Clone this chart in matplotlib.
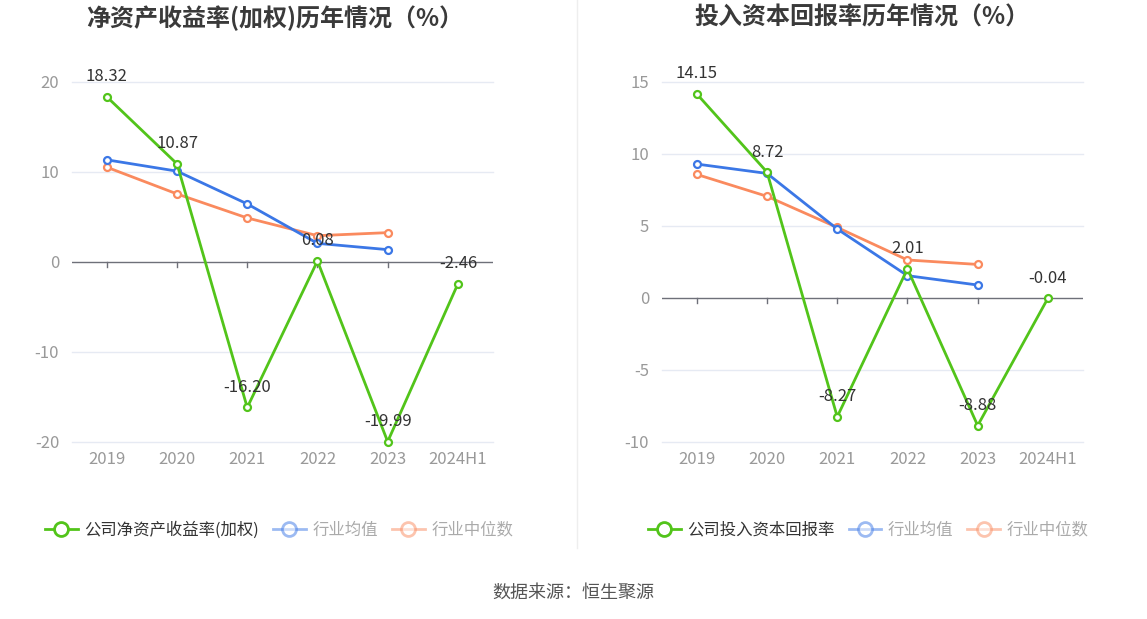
import matplotlib
matplotlib.use("Agg")
import matplotlib.pyplot as plt
from matplotlib.lines import Line2D

plt.rcParams["font.family"] = ["Noto Sans CJK SC", "DejaVu Sans"]

# ── 数据 ──────────────────────────────────────────────────────────────────────
YEARS = ["2019", "2020", "2021", "2022", "2023", "2024H1"]

ROE_COMPANY = [18.32, 10.87, -16.20, 0.08, -19.99, -2.46]
ROE_AVG     = [11.32, 10.06, 6.42, 2.04, 1.34]
ROE_MEDIAN  = [10.50, 7.53, 4.86, 2.89, 3.23]

ROIC_COMPANY = [14.15, 8.72, -8.27, 2.01, -8.88, -0.04]
ROIC_AVG     = [9.28, 8.63, 4.77, 1.53, 0.88]
ROIC_MEDIAN  = [8.56, 7.04, 4.88, 2.62, 2.31]

C_GREEN  = "#52C41A"
C_BLUE   = "#3B77E6"
C_ORANGE = "#FA8A5E"
C_GRID   = "#E6EAF3"
C_AXIS   = "#6E7079"
C_TICK   = "#999999"
C_TEXT   = "#333333"

W, H = 1147, 619


def draw_panel(fig, rect, title, title_x, company, avg, median, ylim, yticks,
               company_label, legend_x):
    ax = fig.add_axes(rect)
    x = list(range(len(YEARS)))
    ax.set_xlim(-0.5, len(YEARS) - 0.5)
    ax.set_ylim(*ylim)

    for y in yticks:
        if y != 0:
            ax.axhline(y, color=C_GRID, lw=1.0, zorder=0, clip_on=False)
    ax.axhline(0, color=C_AXIS, lw=1.0, zorder=1)
    for i in range(len(YEARS) - 1):
        ax.plot([i, i], [0, -(ylim[1] - ylim[0]) * 0.014], color=C_AXIS,
                lw=1.0, zorder=1, clip_on=False)

    mk = dict(marker="o", markersize=5, markerfacecolor="white",
              markeredgewidth=1.6, lw=2.0, clip_on=False)
    ax.plot(x[:len(median)], median, color=C_ORANGE, zorder=3, **mk)
    ax.plot(x[:len(avg)], avg, color=C_BLUE, zorder=4, **mk)
    ax.plot(x, company, color=C_GREEN, zorder=5, **mk)

    for xi, v in zip(x, company):
        ax.annotate(f"{v:.2f}", (xi, v), xytext=(0, 14.4),
                    textcoords="offset points", ha="center", va="center",
                    fontsize=12, color=C_TEXT, zorder=6)

    ax.set_xticks(x)
    ax.set_xticklabels(YEARS)
    ax.set_yticks(yticks)
    ax.set_yticklabels([str(t) for t in yticks])
    ax.tick_params(axis="both", length=0, labelsize=12, colors=C_TICK)
    ax.tick_params(axis="x", pad=7)
    ax.tick_params(axis="y", pad=9)
    for s in ax.spines.values():
        s.set_visible(False)

    fig.text(title_x / W, 1 - 18 / H, title, ha="center", va="center",
             fontsize=17.3, fontweight="bold", color="#3A3A3A")

    hmk = dict(marker="o", markersize=10, markerfacecolor="white",
               markeredgewidth=2.0, lw=2.0)
    handles = [
        Line2D([], [], color=C_GREEN, **hmk),
        Line2D([], [], color=C_BLUE, alpha=0.5, **hmk),
        Line2D([], [], color=C_ORANGE, alpha=0.5, **hmk),
    ]
    leg = fig.legend(handles, [company_label, "行业均值", "行业中位数"],
                     loc="center left", bbox_to_anchor=(legend_x / W, 1 - 530 / H),
                     ncol=3, frameon=False, fontsize=11.8, handlelength=2.0,
                     handletextpad=0.4, columnspacing=0.85, borderpad=0,
                     borderaxespad=0)
    for t, c in zip(leg.get_texts(), [C_TEXT, "#AAAAAA", "#AAAAAA"]):
        t.set_color(c)
    return ax


def main():
    fig = plt.figure(figsize=(W / 100, H / 100), dpi=100, facecolor="white")

    top, bottom = 81.7, 441.7
    draw_panel(fig, [71.7 / W, 1 - bottom / H, (493 - 71.7) / W, (bottom - top) / H],
               "净资产收益率(加权)历年情况（%）", 275,
               ROE_COMPANY, ROE_AVG, ROE_MEDIAN, (-20, 20), [-20, -10, 0, 10, 20],
               "公司净资产收益率(加权)", 45)
    draw_panel(fig, [661.7 / W, 1 - bottom / H, (1083 - 661.7) / W, (bottom - top) / H],
               "投入资本回报率历年情况（%）", 862,
               ROIC_COMPANY, ROIC_AVG, ROIC_MEDIAN, (-10, 15), [-10, -5, 0, 5, 10, 15],
               "公司投入资本回报率", 648)

    fig.add_artist(Line2D([577 / W, 577 / W], [1 - 548 / H, 1.0],
                          color="#EEEEEE", lw=1.0))
    fig.text(573 / W, 1 - 593 / H, "数据来源：恒生聚源", ha="center", va="center",
             fontsize=13, color="#555555")

    fig.savefig("out.png", dpi=100, facecolor="white")
    plt.close(fig)


if __name__ == "__main__":
    main()
